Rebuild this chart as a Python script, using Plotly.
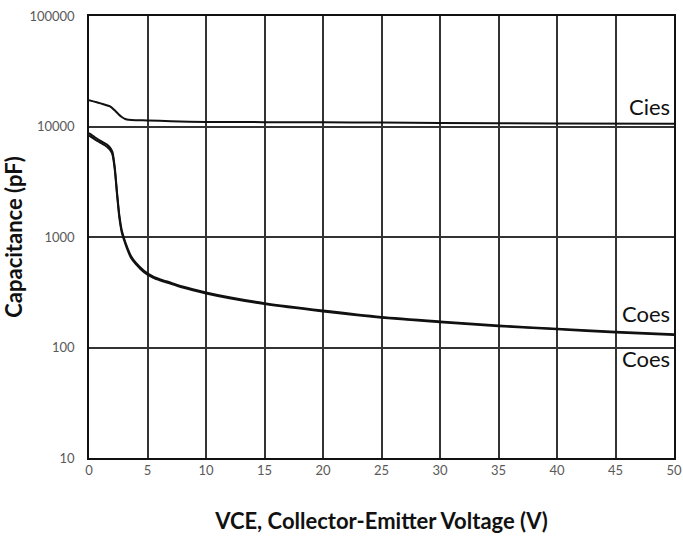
import plotly.graph_objects as go

# Data
cies_v = [0, 1, 1.8, 2.2, 2.5, 2.8, 3.1, 3.4, 4, 5, 7, 10, 15, 20, 25, 30, 40, 50]
cies_c = [17300, 16200, 15200, 14000, 13000, 12200, 11700, 11500, 11400, 11350,
          11150, 11000, 10950, 10900, 10850, 10750, 10650, 10600]

coes_v = [0, 0.5, 1, 1.5, 1.8, 2.0, 2.2, 2.4, 2.6, 2.8, 3.0, 3.3, 3.6, 4.0, 4.7,
          5.5, 6.1, 7, 8, 10, 12, 15, 20, 25, 30, 35, 40, 45, 50]
coes_a = [8700, 8000, 7400, 6900, 6450, 5900, 4300, 2500, 1550, 1150, 970, 790,
          670, 585, 495, 438, 414, 386, 356, 315, 285, 252, 216, 189, 172, 158,
          148, 139, 132]
coes_b = [8300, 7650, 7100, 6600, 6150, 5600, 4100, 2400, 1480, 1100, 935, 760,
          645, 568, 480, 426, 403, 377, 348, 308, 279, 247, 212, 186, 169, 156,
          146, 137, 130]

x_ticks = [0, 5, 10, 15, 20, 25, 30, 35, 40, 45, 50]
y_ticks = [10, 100, 1000, 10000, 100000]
y_labels = ["10", "100", "1000", "10000", "100000"]

fig = go.Figure()
fig.add_trace(go.Scatter(x=cies_v, y=cies_c, mode="lines", line=dict(color="#111111", width=2, shape="spline", smoothing=0.6)))
fig.add_trace(go.Scatter(x=coes_v, y=coes_a, mode="lines", line=dict(color="#111111", width=2, shape="spline", smoothing=0.6)))
fig.add_trace(go.Scatter(x=coes_v, y=coes_b, mode="lines", line=dict(color="#111111", width=2, shape="spline", smoothing=0.6)))

lab_font = dict(family="Lato", size=22, color="#111111")
fig.add_annotation(x=50, y=4.18, xref="x", yref="y", text="Cies", showarrow=False, xanchor="right", xshift=-2, font=lab_font)
fig.add_annotation(x=50, y=2.31, xref="x", yref="y", text="Coes", showarrow=False, xanchor="right", xshift=-2, font=lab_font)
fig.add_annotation(x=50, y=1.90, xref="x", yref="y", text="Coes", showarrow=False, xanchor="right", xshift=-2, font=lab_font)

fig.update_layout(
    width=683, height=538,
    margin=dict(l=89, r=9, t=16, b=80),
    paper_bgcolor="white", plot_bgcolor="white",
    showlegend=False,
    font=dict(family="Lato", color="#595959"),
)
fig.update_xaxes(
    range=[0, 50], tickvals=x_ticks, showgrid=True, gridcolor="#333333", gridwidth=1.5,
    showline=True, linecolor="#111111", linewidth=1.5, mirror=True, zeroline=False,
    ticks="", automargin=False, ticklabeloverflow="allow",
    tickfont=dict(family="Lato", size=13, color="#595959"),
    title=dict(text="<b>VCE, Collector-Emitter Voltage (V)</b>", font=dict(family="Lato", size=22, color="#111111"), standoff=36),
)
fig.update_yaxes(
    type="log", range=[1, 5], tickvals=y_ticks, ticktext=y_labels,
    showgrid=True, gridcolor="#333333", gridwidth=1.5,
    showline=True, linecolor="#111111", linewidth=1.5, mirror=True, zeroline=False,
    ticks="", automargin=False, ticklabelstandoff=10, tickfont=dict(family="Lato", size=13, color="#595959"),
    title=dict(text="<b>Capacitance (pF)</b>", font=dict(family="Lato", size=22, color="#111111"), standoff=12),
)

fig.write_html("out.html")
